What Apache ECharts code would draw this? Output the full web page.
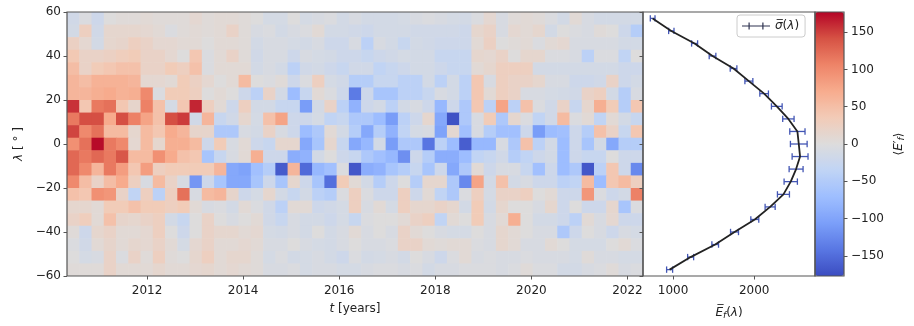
<!DOCTYPE html>
<html><head><meta charset="utf-8">
<script src="https://cdn.jsdelivr.net/npm/echarts@6/dist/echarts.min.js"></script>
<style>html,body{margin:0;padding:0;background:#fff}#c{width:914px;height:326px}</style>
</head><body><div id="c"></div>
<script>
// ---- axis definitions ----
const T_START = 2010.334, T_END = 2022.323, N_COLS = 47;
const LAT_MAX = 60, LAT_MIN = -60, N_ROWS = 21;
const xTicks = [2012, 2014, 2016, 2018, 2020, 2022];
const cbTicks = [-150, -100, -50, 0, 50, 100, 150];
const eTicks = [1000, 2000];
const cbMin = -177, cbMax = 177;
const eMin = 630, eMax = 2750;

// ---- heatmap rows (lat bins from +60 down to -60), 47 time bins each ----
const r00 = [-16,-4,-20,0,4,4,7,4,4,4,11,4, 7,7,4,0,-11,-11,0,-11,-7,-4,-13, -7,-13,-13,-13,-11,-7,-4,-7,-11,-13,-4,11, -7,4,7,4,-4,-13,7,-7,-13,-13,-13,-13];
const r01 = [-13,27,-16,13,13,13,11,7,-4,4,7,4, 7,20,4,-7,-4,-13,-7,-4,7,-13,-13, -16,-20,-13,-13,-13,-16,-16,-16,-16,-20,13,20, -7,11,7,13,-13,0,-4,-7,4,0,-20,-47];
const r02 = [24,11,-13,13,16,27,20,11,11,7,7,0, 7,7,4,-13,-7,-7,-11,-13,-7,-20,-20, -7,-40,-7,-13,-27,-13,-16,-20,-20,-20,7,24, 0,4,7,-4,7,11,-7,-7,-7,-7,-13,-13];
const r03 = [38,20,20,24,30,34,20,20,11,0,40,-4, 7,20,4,-16,-7,-7,-20,-7,-11,-13,-20, -20,-27,-20,-16,-11,-13,-13,-27,-27,-27,13,11, 20,0,13,13,-4,-4,-7,-40,-4,-4,-34,0];
const r04 = [51,20,34,40,47,47,20,20,34,27,47,-4, 7,7,7,-13,-7,-13,-40,-16,-13,-20,-27, -16,-16,-34,-27,-20,-13,-13,-20,-27,-27,7,13, 27,27,27,-13,-13,-13,-13,-13,-13,-13,-20,-20];
const r05 = [60,51,64,64,64,60,11,11,7,34,24,11, 0,7,54,0,-4,4,-20,-4,27,-11,-16, -47,-47,-27,-27,-40,-40,-13,-40,-13,-40,40,-7, 27,20,20,13,-7,-7,-20,-20,-16,20,-20,-13];
const r06 = [60,60,67,72,64,67,102,-4,34,34,27,0, 7,0,-20,-40,20,-13,-72,-27,7,-4,-20, -138,-20,-60,-60,-40,-40,-27,-7,-13,-40,40,7, 27,20,-7,-7,-11,-13,-16,20,27,-13,-47,-7];
const r07 = [156,40,114,120,40,16,108,47,-11,40,162,27, 7,-20,27,-13,-13,-27,-27,-108,-13,20,-40, -84,-20,-13,-40,-13,-7,-20,-78,-20,-54,40,-40, 78,-40,47,-4,-16,20,-27,13,67,34,-47,40];
const r08 = [114,143,143,72,143,108,78,47,143,152,-16,60, -27,-16,13,-11,47,78,-20,-20,-11,-34,-27, -54,-54,-72,-108,-40,-20,13,-96,-172,-54,-7,34, -54,13,-4,-34,-16,54,-4,7,-34,7,-13,-27];
const r09 = [148,102,120,54,54,13,54,40,72,60,16,16, -54,-54,-7,-13,20,-7,-20,-72,-54,7,-13, -47,-96,-47,-84,-34,-11,-7,-102,11,-67,-7,-47, -67,-67,-20,-108,-72,-67,-20,-47,47,20,-27,40];
const r10 = [96,120,174,114,102,11,54,13,67,67,54,-20, 34,-7,7,-20,-27,13,13,-96,-60,13,-27, -96,-78,-13,-108,-54,-54,-143,-40,-72,-162,-78,-78, -7,-54,47,-40,-13,-72,-20,-60,-13,-96,-47,-47];
const r11 = [126,114,126,114,138,54,54,96,72,47,40,-60, -27,-7,7,67,-20,-20,-90,-84,-13,0,-20, -27,-54,-67,-78,-120,-20,-47,-90,-90,-72,-34,-27, -16,-47,-34,-20,-13,-72,-20,-27,-27,0,-20,-20];
const r12 = [126,102,60,114,84,40,84,27,34,34,34,34, 60,-96,-102,-67,-47,-165,60,-152,-78,-67,-4, -168,-90,-84,-60,-47,-27,-60,-20,-96,-54,7,-20, -7,-7,-27,-67,-20,-72,-54,-168,-40,40,-20,-126];
const r13 = [102,51,20,51,72,27,-7,54,20,-7,-114,-20, -60,-96,-96,-60,-20,-60,13,-20,-60,-148,34, 7,-13,-47,-20,0,-47,13,13,-54,-126,78,-13, 47,-13,-7,-20,-20,-40,-34,54,-72,40,54,27];
const r14 = [47,40,96,90,20,-34,27,-40,27,120,-7,54, 60,16,-20,-11,13,-13,-27,-13,-40,-47,-4, 27,-4,-20,-20,27,-20,7,-34,-54,-4,27,-11, 20,20,27,0,7,-20,-20,90,-4,-20,-13,108];
const r15 = [13,13,7,34,34,47,34,34,27,34,7,-7, -4,-13,7,-4,-16,-40,7,7,-20,-16,-11, 27,-7,7,-11,27,13,13,20,13,-13,34,-13, 13,0,0,-7,13,-20,0,-20,-20,13,-60,-4];
const r16 = [20,30,7,47,16,13,20,27,-13,-27,0,20, 0,-7,0,7,-16,-27,-7,-13,-13,-20,-11, -27,-4,0,0,7,20,27,-34,7,0,34,-7, 7,67,0,-13,-13,-20,-40,7,-7,11,-20,-20];
const r17 = [4,-20,13,20,7,7,11,27,0,-20,0,20, 13,13,7,11,-11,-13,-7,-13,0,-13,-7, 7,-7,0,-7,20,7,0,-7,-11,-11,0,-7, 13,7,0,-7,-7,-54,-20,0,-7,-20,-7,-11];
const r18 = [-4,-16,7,16,7,13,11,20,7,-11,11,20, 7,7,11,7,-7,-7,0,-7,-11,-13,-7, 0,-7,-7,-4,20,20,7,4,7,7,-4,-7, 13,7,-7,-7,7,0,-11,-11,-11,0,7,-4];
const r19 = [0,-11,-7,20,-4,20,4,27,4,0,13,27, 7,13,13,4,-11,-4,-13,-11,-7,-13,-20, -4,-13,-11,-7,-13,0,-7,-20,-4,7,-7,-4, -7,-7,-4,-7,-7,-7,-11,4,-7,-7,-11,-11];
const r20 = [4,4,4,20,7,7,7,13,7,7,11,13, 7,11,7,4,-7,-7,-4,-11,-7,-7,-11, -11,-7,-4,-4,-7,-4,-13,-7,-7,-4,-4,-4, -7,-4,4,-4,-4,-13,-13,-7,-4,4,-7,-4];
const heatRows = [r00,r01,r02,r03,r04,r05,r06,r07,r08,r09,r10,r11,r12,r13,r14,r15,r16,r17,r18,r19,r20];

// ---- latitude profile ----
const profileLat = [57.1, 51.4, 45.7, 40.0, 34.3, 28.6, 22.9, 17.1, 11.4, 5.7, 0, -5.7, -11.4, -17.1, -22.9, -28.6, -34.3, -40.0, -45.7, -51.4, -57.1];
const profileE   = [749, 979, 1266, 1487, 1746, 1935, 2123, 2279, 2422, 2533, 2550, 2566, 2517, 2451, 2361, 2197, 2008, 1758, 1520, 1217, 958];
const profileErr = [29, 33, 37, 41, 41, 49, 53, 66, 70, 94, 103, 98, 86, 82, 74, 62, 49, 49, 41, 37, 37];

const coolwarm = ['#3b4cc0','#5977e3','#7b9ff9','#9ebeff','#c0d4f5','#dddcdc','#f2cbb7','#f7ac8e','#ee8468','#d65244','#b40426'];

// ---- build data ----
const dT = (T_END - T_START) / N_COLS;
const dLat = (LAT_MAX - LAT_MIN) / N_ROWS;
const heatData = [];
heatRows.forEach((row, r) => {
  row.forEach((v, k) => {
    heatData.push([T_START + (k + 0.5) * dT, LAT_MAX - (r + 0.5) * dLat, v]);
  });
});
const profileData = profileE.map((e, i) => [e, profileLat[i]]);
const errData = profileE.map((e, i) => [e, profileLat[i], profileErr[i]]);

const FONT = 'DejaVu Sans';
const TXT = '#222';
const SPINE = '#555';
const fmtNum = v => (v < 0 ? '\u2212' + Math.abs(v) : String(v));
const tickStyle = {color: SPINE, width: 1};

const chart = echarts.init(document.getElementById('c'), null, {renderer: 'canvas'});
chart.setOption({
  animation: false,
  backgroundColor: '#fff',
  textStyle: {fontFamily: FONT},
  grid: [
    {left: 67, top: 12, width: 576, height: 264, show: true, borderColor: SPINE, borderWidth: 1.2, backgroundColor: 'transparent', z: 5},
    {left: 643, top: 12, width: 172, height: 264, show: true, borderColor: SPINE, borderWidth: 1.2, backgroundColor: 'transparent', z: 5},
    {left: 815, top: 12, width: 29, height: 264, show: true, borderColor: SPINE, borderWidth: 1.2, backgroundColor: 'transparent', z: 5}
  ],
  xAxis: [
    {gridIndex: 0, type: 'value', min: T_START, max: T_END, position: 'bottom', z: 10,
     axisLine: {show: false, onZero: false}, splitLine: {show: false},
     axisTick: {show: true, length: 3.5, lineStyle: tickStyle, customValues: xTicks},
     axisLabel: {fontSize: 12, color: TXT, fontFamily: FONT, margin: 9, customValues: xTicks, formatter: v => String(v)},
     name: '{i|t} [years]', nameLocation: 'middle', nameGap: 27,
     nameTextStyle: {fontSize: 12, color: TXT, fontFamily: FONT, rich: {i: {fontSize: 12, fontStyle: 'italic', color: TXT, fontFamily: FONT}}}},
    {gridIndex: 1, type: 'value', min: eMin, max: eMax, position: 'bottom', z: 10,
     axisLine: {show: false, onZero: false}, splitLine: {show: false},
     axisTick: {show: true, length: 3.5, lineStyle: tickStyle, customValues: eTicks},
     axisLabel: {fontSize: 12, color: TXT, fontFamily: FONT, margin: 9, customValues: eTicks, formatter: v => String(v)},
     name: '{e|E\u0305}{s|f}{n|(}{e|\u03bb}{n|)}', nameLocation: 'middle', nameGap: 30,
     nameTextStyle: {fontSize: 12, color: TXT, fontFamily: FONT, rich: {
       e: {fontSize: 12, fontStyle: 'italic', color: TXT, fontFamily: FONT},
       s: {fontSize: 9, fontStyle: 'italic', color: TXT, fontFamily: FONT, verticalAlign: 'bottom', padding: [5, 0, 0, 0]},
       n: {fontSize: 12, color: TXT, fontFamily: FONT}}}},
    {gridIndex: 2, type: 'value', min: 0, max: 1, show: false}
  ],
  yAxis: [
    {gridIndex: 0, type: 'value', min: LAT_MIN, max: LAT_MAX, interval: 20, position: 'left', z: 10,
     axisLine: {show: false, onZero: false}, splitLine: {show: false},
     axisTick: {show: true, length: 3.5, lineStyle: tickStyle},
     axisLabel: {fontSize: 12, color: TXT, fontFamily: FONT, margin: 6, formatter: fmtNum},
     name: '{i|\u03bb} [ \u00b0 ]', nameLocation: 'middle', nameGap: 37, nameRotate: 90,
     nameTextStyle: {fontSize: 12, color: TXT, fontFamily: FONT, rich: {i: {fontSize: 12, fontStyle: 'italic', color: TXT, fontFamily: FONT}}}},
    {gridIndex: 1, type: 'value', min: LAT_MIN, max: LAT_MAX, interval: 20, position: 'left', z: 10,
     axisLine: {show: false, onZero: false}, splitLine: {show: false},
     axisTick: {show: true, length: 3.5, lineStyle: tickStyle},
     axisLabel: {show: false}},
    {gridIndex: 2, type: 'value', min: cbMin, max: cbMax, position: 'right', z: 10,
     axisLine: {show: false, onZero: false}, splitLine: {show: false},
     axisTick: {show: true, length: 3.5, lineStyle: tickStyle, customValues: cbTicks},
     axisLabel: {fontSize: 12, color: TXT, fontFamily: FONT, margin: 7, customValues: cbTicks, formatter: fmtNum},
     name: '\u27e8{i|E}\u2032{s|f}\u27e9', nameLocation: 'middle', nameGap: 48, nameRotate: 90,
     nameTextStyle: {fontSize: 12, color: TXT, fontFamily: FONT, rich: {
       i: {fontSize: 12, fontStyle: 'italic', color: TXT, fontFamily: FONT},
       s: {fontSize: 9, fontStyle: 'italic', color: TXT, fontFamily: FONT, verticalAlign: 'bottom', padding: [5, 0, 0, 0]}}}}
  ],
  visualMap: {
    type: 'continuous', min: cbMin, max: cbMax, dimension: 2, seriesIndex: 0,
    inRange: {color: coolwarm}, calculable: false, realtime: false,
    left: 815, top: 12, itemWidth: 29, itemHeight: 264, padding: 0, text: null,
    orient: 'vertical', hoverLink: false, showLabel: false
  },
  legend: {
    left: 737, top: 15, orient: 'horizontal', selectedMode: false,
    padding: [5, 6, 5, 5], borderColor: '#ccc', borderWidth: 1, borderRadius: 3,
    backgroundColor: 'rgba(255,255,255,0.85)',
    itemWidth: 28, itemHeight: 10,
    data: [{name: 'sigma', icon: 'path://M0,4.4H28V5.6H0Z M6.5,1.5H7.7V8.5H6.5Z M20.3,1.5H21.5V8.5H20.3Z', itemStyle: {color: '#2e3350'}}],
    formatter: () => '{i|\u03c3\u0305}({i|\u03bb})',
    textStyle: {fontSize: 12, color: TXT, fontFamily: FONT, rich: {i: {fontSize: 12, fontStyle: 'italic', color: TXT, fontFamily: FONT}}}
  },
  series: [
    {
      type: 'custom', name: 'heat', xAxisIndex: 0, yAxisIndex: 0, clip: true,
      encode: {x: 0, y: 1},
      data: heatData,
      renderItem: (params, api) => {
        const t = api.value(0), lat = api.value(1);
        const p0 = api.coord([t - dT / 2, lat + dLat / 2]);
        const p1 = api.coord([t + dT / 2, lat - dLat / 2]);
        return {type: 'rect', shape: {x: p0[0], y: p0[1], width: p1[0] - p0[0] + 0.6, height: p1[1] - p0[1] + 0.6},
                style: {fill: api.visual('color')}};
      }
    },
    {
      type: 'custom', name: 'err', xAxisIndex: 1, yAxisIndex: 1, clip: true, z: 3,
      encode: {x: 0, y: 1},
      data: errData,
      renderItem: (params, api) => {
        const e = api.value(0), lat = api.value(1), err = api.value(2);
        const a = api.coord([e - err, lat]);
        const b = api.coord([e + err, lat]);
        const st = {stroke: '#4356b4', lineWidth: 1.3};
        return {type: 'group', children: [
          {type: 'line', shape: {x1: a[0], y1: a[1], x2: b[0], y2: b[1]}, style: st},
          {type: 'line', shape: {x1: a[0], y1: a[1] - 3.2, x2: a[0], y2: a[1] + 3.2}, style: st},
          {type: 'line', shape: {x1: b[0], y1: b[1] - 3.2, x2: b[0], y2: b[1] + 3.2}, style: st}
        ]};
      }
    },
    {
      type: 'line', name: 'sigma', xAxisIndex: 1, yAxisIndex: 1, z: 4,
      data: profileData, showSymbol: false, symbol: 'none',
      lineStyle: {color: '#222', width: 1.8}, itemStyle: {color: '#2e3350'}
    }
  ]
});
</script></body></html>
